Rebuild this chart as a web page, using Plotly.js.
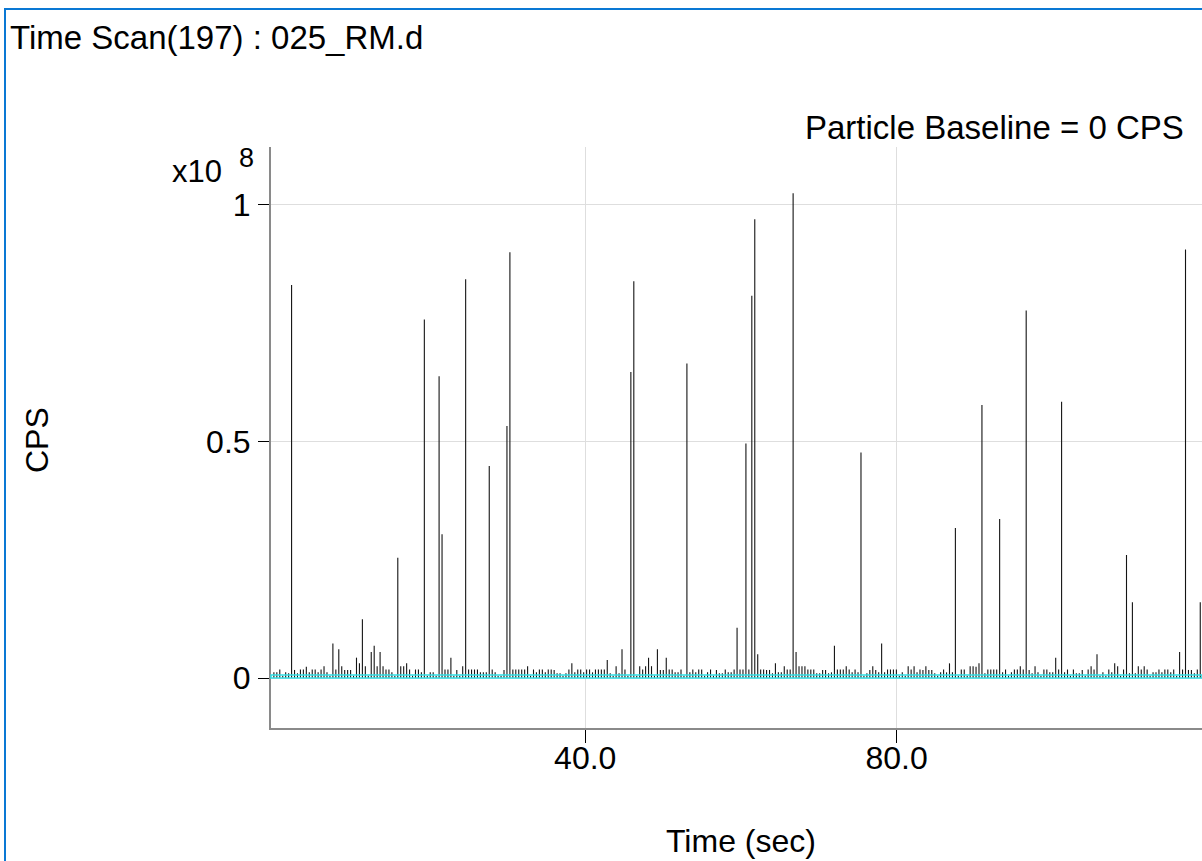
<!DOCTYPE html>
<html>
<head>
<meta charset="utf-8">
<script src="https://cdn.plot.ly/plotly-3.0.1.min.js"></script>
<style>
  html, body { margin: 0; padding: 0; background: #fff; overflow: hidden; }
  #chart { width: 1202px; height: 861px; position: absolute; left: 0; top: 0; }
  #frame { position: absolute; left: 4px; top: 8px; width: 3000px; height: 3000px;
           border-left: 2px solid #0a78d4; border-top: 2px solid #0a78d4; pointer-events: none; }
</style>
</head>
<body>
<div id="chart"></div>
<div id="frame"></div>
<script>
// ---- data ----
const chartTitle = "Time Scan(197) : 025_RM.d";
const baselineLabel = "Particle Baseline = 0 CPS";
const particleBaseline = 0;           // CPS
const dwell = 0.379;                  // seconds between samples
// signal per sample, in units of 1e6 CPS
const cpsE6 = [
  1.2, 1.2, 1.8, 0.5, 1.2, 1.0, 83.1, 1.7, 1.0, 1.8,
  1.8, 2.4, 1.2, 1.8, 1.8, 1.2, 1.8, 2.5, 1.2, 0.5,
  7.3, 1.8, 6.1, 2.5, 1.7, 1.7, 1.7, 0.5, 4.3, 3.1,
  12.4, 2.5, 0.5, 5.5, 6.8, 2.5, 5.5, 2.5, 1.8, 1.8,
  1.2, 0.5, 25.4, 2.5, 2.5, 3.1, 1.8, 0.5, 1.8, 1.8,
  1.2, 75.8, 0.5, 1.2, 1.2, 0.5, 63.8, 30.4, 1.8, 1.8,
  4.3, 0.5, 1.7, 0.5, 2.5, 84.3, 1.8, 1.8, 1.8, 1.8,
  1.2, 1.2, 1.2, 44.8, 1.8, 1.2, 0.5, 0.5, 1.7, 53.3,
  90.0, 1.8, 1.8, 1.8, 1.8, 1.8, 2.5, 0.5, 1.8, 1.2,
  1.8, 1.8, 1.2, 1.8, 1.8, 1.7, 1.0, 1.0, 0.5, 1.0,
  1.8, 3.1, 1.2, 1.8, 1.8, 1.2, 1.8, 1.8, 1.2, 1.8,
  1.8, 1.8, 1.8, 3.8, 1.0, 0.5, 2.5, 1.0, 6.1, 1.8,
  0.5, 64.7, 83.9, 0.5, 2.5, 1.8, 2.5, 4.3, 2.5, 0.5,
  6.1, 1.7, 1.7, 4.3, 1.8, 1.8, 1.2, 1.2, 1.8, 0.5,
  66.5, 1.2, 1.8, 1.2, 1.8, 1.8, 0.5, 1.2, 1.8, 0.5,
  1.7, 1.0, 1.0, 1.8, 1.2, 1.2, 1.8, 10.6, 1.8, 1.8,
  49.6, 1.8, 80.8, 97.0, 5.0, 1.8, 1.8, 1.7, 1.7, 1.0,
  3.1, 1.2, 1.2, 2.5, 1.8, 1.8, 102.5, 5.5, 2.5, 2.5,
  2.5, 1.8, 1.8, 1.8, 1.0, 1.0, 1.7, 1.7, 1.0, 1.2,
  6.8, 1.8, 1.8, 1.8, 2.5, 1.8, 1.2, 1.8, 1.2, 47.7,
  0.5, 1.0, 1.7, 2.5, 1.7, 1.2, 7.3, 1.2, 1.8, 1.8,
  1.8, 1.8, 0.5, 1.2, 0.5, 2.5, 1.8, 2.5, 1.2, 1.8,
  1.7, 2.5, 1.7, 1.7, 1.0, 0.5, 1.2, 1.8, 1.2, 3.1,
  1.2, 31.7, 0.5, 1.8, 1.8, 0.5, 2.5, 2.5, 2.4, 3.1,
  57.7, 1.0, 1.8, 1.8, 1.8, 1.8, 33.6, 1.2, 1.8, 0.5,
  1.2, 1.8, 1.8, 2.5, 1.8, 77.7, 1.7, 1.0, 2.5, 1.2,
  0.5, 1.8, 1.8, 1.2, 1.2, 4.3, 1.8, 58.4, 1.2, 1.8,
  0.5, 1.8, 1.0, 1.0, 1.7, 0.5, 1.8, 2.5, 1.8, 5.0,
  0.5, 1.2, 0.5, 1.8, 1.2, 3.1, 2.5, 0.5, 1.8, 26.0,
  1.0, 16.0, 1.0, 2.5, 1.8, 2.5, 1.8, 0.5, 1.2, 1.2,
  1.8, 1.2, 1.8, 1.8, 1.2, 1.8, 0.5, 5.5, 1.8, 90.6,
  1.7, 1.7, 1.0, 1.8, 16.0, 1.7
];
const xTickVals = [40, 80, 120];
const xTickText = ["40.0", "80.0", "120.0"];
const yTickVals = [0, 0.5, 1];
const yTickText = ["0", "0.5", "1"];
const yScaleLabel = "x10";
const yScaleExp = "8";

// ---- build stems (values shown in units of 1e8 CPS) ----
const sx = [], sy = [];
cpsE6.forEach((v, i) => {
  const t = i * dwell;
  sx.push(t, t, null);
  sy.push(particleBaseline / 1e8, v / 100, null);
});

const font = "Liberation Sans, Arial, Helvetica, sans-serif";

const traces = [{
  type: "scatter", mode: "lines", x: sx, y: sy,
  line: { color: "#141414", width: 1.1 },
  hoverinfo: "skip", showlegend: false, connectgaps: false
}];

const layout = {
  width: 1202, height: 861,
  margin: { l: 271, r: 0, t: 147, b: 133 },
  paper_bgcolor: "#ffffff", plot_bgcolor: "#ffffff",
  showlegend: false,
  font: { family: font, size: 32, color: "#000" },
  xaxis: {
    range: [-0.37, 119.23],
    tickvals: xTickVals, ticktext: xTickText,
    ticks: "outside", ticklen: 13, tickwidth: 1, tickcolor: "#000",
    ticklabelstandoff: -12,
    showline: true, linecolor: "#8a8a8a", linewidth: 2,
    showgrid: true, gridcolor: "#dedede", gridwidth: 1,
    zeroline: false, tickfont: { family: font, size: 32, color: "#000" }
  },
  yaxis: {
    range: [-0.1057, 1.1226],
    tickvals: yTickVals, ticktext: yTickText,
    ticks: "outside", ticklen: 11, tickwidth: 1, tickcolor: "#000",
    ticklabelstandoff: 1,
    showline: true, linecolor: "#8a8a8a", linewidth: 2,
    showgrid: true, gridcolor: "#dedede", gridwidth: 1,
    zeroline: false, tickfont: { family: font, size: 32, color: "#000" }
  },
  shapes: [{
    type: "rect", xref: "paper", x0: 0, x1: 1,
    yref: "y", ysizemode: "pixel", yanchor: particleBaseline / 1e8, y0: 0, y1: 3,
    line: { color: "#30e0e6", width: 1.5 }, fillcolor: "rgba(0,0,0,0)", layer: "above"
  }],
  annotations: [
    { text: chartTitle, xref: "paper", yref: "paper", x: -0.2825, y: 1.1893,
      xanchor: "left", yanchor: "middle", showarrow: false,
      font: { family: font, size: 33, color: "#000" } },
    { text: baselineLabel, xref: "paper", yref: "paper", x: 0.9828, y: 1.0344,
      xanchor: "right", yanchor: "middle", showarrow: false,
      font: { family: font, size: 33, color: "#000" } },
    { text: yScaleLabel, xref: "paper", yref: "paper", x: -0.0505, y: 0.957,
      xanchor: "right", yanchor: "middle", showarrow: false,
      font: { family: font, size: 31, color: "#000" } },
    { text: yScaleExp, xref: "paper", yref: "paper", x: -0.0365, y: 0.981,
      xanchor: "left", yanchor: "middle", showarrow: false,
      font: { family: font, size: 27, color: "#000" } },
    { text: "CPS", xref: "paper", yref: "paper", x: -0.2513, y: 0.4957,
      xanchor: "center", yanchor: "middle", textangle: -90, showarrow: false,
      font: { family: font, size: 32, color: "#000" } },
    { text: "Time (sec)", xref: "paper", yref: "paper", x: 0.5048, y: -0.1945,
      xanchor: "center", yanchor: "middle", showarrow: false,
      font: { family: font, size: 32, color: "#000" } }
  ]
};

Plotly.newPlot("chart", traces, layout, { staticPlot: true, displayModeBar: false });
</script>
</body>
</html>
